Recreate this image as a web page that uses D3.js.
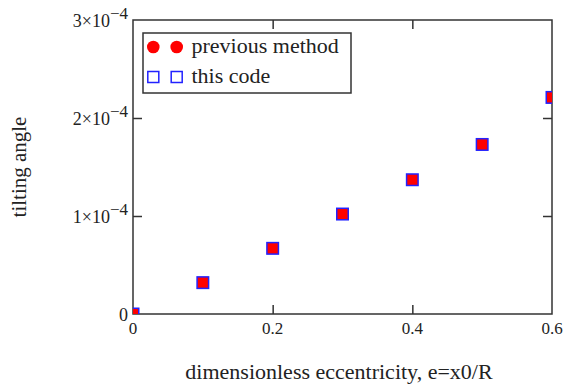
<!DOCTYPE html>
<html>
<head>
<meta charset="utf-8">
<script src="https://cdn.jsdelivr.net/npm/d3@7"></script>
<style>
  body { margin: 0; background: #fff; }
  text { font-family: "Liberation Serif", "DejaVu Serif", serif; fill: #222; }
</style>
</head>
<body>
<svg id="chart" width="566" height="389"></svg>
<script>
// data
var ecc = [0, 0.1, 0.2, 0.3, 0.4, 0.5, 0.6];
var prevMethod = [0, 0.32e-4, 0.67e-4, 1.02e-4, 1.37e-4, 1.73e-4, 2.21e-4];
var thisCode = [0, 0.32e-4, 0.67e-4, 1.02e-4, 1.37e-4, 1.73e-4, 2.21e-4];
var xTicks = [0, 0.2, 0.4, 0.6];
var xTickLabels = ['0', '0.2', '0.4', '0.6'];
var yTicks = [0, 1e-4, 2e-4, 3e-4];
var yTickMant = ['0', '1', '2', '3'];
var legendNames = ['previous method', 'this code'];

var margin = { top: 20, right: 14, bottom: 75, left: 133 },
    width = 566 - margin.left - margin.right,
    height = 389 - margin.top - margin.bottom;

var svg = d3.select('#chart');
var g = svg.append('g').attr('transform', 'translate(' + margin.left + ',' + margin.top + ')');

var x = d3.scaleLinear().domain([0, 0.6]).range([0, width]);
var y = d3.scaleLinear().domain([0, 3e-4]).range([height, 0]);

svg.append('defs').append('clipPath').attr('id', 'clip')
    .append('rect').attr('width', width).attr('height', height);

///////////////////////////////
// axes, ticks pointing inward
///////////////////////////////
function styleAxis(sel) {
    sel.select('.domain').remove();
    sel.selectAll('.tick line').attr('stroke', '#333').attr('stroke-width', 1.5);
}
g.append('g').attr('transform', 'translate(0,' + height + ')')
    .call(d3.axisBottom(x).tickValues(xTicks.slice(1, -1)).tickSize(-9).tickFormat(''))
    .call(styleAxis);
g.append('g')
    .call(d3.axisTop(x).tickValues(xTicks.slice(1, -1)).tickSize(-9).tickFormat(''))
    .call(styleAxis);
g.append('g')
    .call(d3.axisLeft(y).tickValues(yTicks.slice(1, -1)).tickSize(-9).tickFormat(''))
    .call(styleAxis);
g.append('g').attr('transform', 'translate(' + width + ',0)')
    .call(d3.axisRight(y).tickValues(yTicks.slice(1, -1)).tickSize(-9).tickFormat(''))
    .call(styleAxis);

g.append('rect')
    .attr('width', width).attr('height', height)
    .attr('fill', 'none').attr('stroke', '#333').attr('stroke-width', 1.5);

// x tick labels
g.append('g').selectAll('text')
    .data(xTicks)
    .enter()
    .append('text')
        .attr('x', function(d) { return x(d); })
        .attr('y', height + 20)
        .attr('text-anchor', 'middle')
        .attr('font-size', 17)
        .text(function(d, i) { return xTickLabels[i]; });

// y tick labels, "n×10^-4"
var yl = g.append('g').selectAll('text')
    .data(yTicks)
    .enter()
    .append('text')
        .attr('x', -5)
        .attr('y', function(d) { return y(d) + 7; })
        .attr('text-anchor', 'end')
        .attr('font-size', 18);
yl.each(function(d, i) {
    var t = d3.select(this);
    if (d === 0) { t.text('0'); return; }
    t.append('tspan').text(yTickMant[i] + '\u00d710');
    t.append('tspan').attr('dy', -8).attr('font-size', 17).text('\u2212' + '4');
});

///////////////////////////////
// points
///////////////////////////////
var plot = g.append('g').attr('clip-path', 'url(#clip)');
var sq = 11.5;

// previous method: red marks, filling the squares
plot.append('g')
    .selectAll('rect')
    .data(prevMethod)
    .enter()
    .append('rect')
        .attr('x', function(d, i) { return x(ecc[i]) - sq / 2; })
        .attr('y', function(d) { return y(d) - sq / 2; })
        .attr('width', sq).attr('height', sq)
        .attr('fill', '#ff0000');

// this code: blue open squares
plot.append('g')
    .selectAll('rect')
    .data(thisCode)
    .enter()
    .append('rect')
        .attr('x', function(d, i) { return x(ecc[i]) - sq / 2; })
        .attr('y', function(d) { return y(d) - sq / 2; })
        .attr('width', sq).attr('height', sq)
        .attr('fill', 'none')
        .attr('stroke', '#2222ff')
        .attr('stroke-width', 1.5);

///////////////////////////////
// legend
///////////////////////////////
var lg = g.append('g').attr('transform', 'translate(10,13)');
lg.append('rect')
    .attr('width', 208).attr('height', 60)
    .attr('fill', '#fff').attr('stroke', '#333').attr('stroke-width', 1.5);

[10.3, 33.7].forEach(function(dx) {
    lg.append('circle').attr('cx', dx).attr('cy', 14).attr('r', 6.3).attr('fill', '#ff0000');
    lg.append('rect').attr('x', dx - 5.5).attr('y', 38.5).attr('width', 11).attr('height', 11)
        .attr('fill', 'none').attr('stroke', '#2222ff').attr('stroke-width', 1.5);
});
lg.selectAll('text.lab')
    .data(legendNames)
    .enter()
    .append('text')
        .attr('class', 'lab')
        .attr('x', 48.5)
        .attr('y', function(d, i) { return 20 + i * 30; })
        .attr('font-size', 22)
        .text(function(d) { return d; });

///////////////////////////////
// axis titles
///////////////////////////////
svg.append('text')
    .attr('transform', 'translate(26,167) rotate(-90)')
    .attr('text-anchor', 'middle')
    .attr('font-size', 21)
    .text('tilting angle');

svg.append('text')
    .attr('x', 339)
    .attr('y', 379)
    .attr('text-anchor', 'middle')
    .attr('font-size', 22)
    .text('dimensionless eccentricity, e=x0/R');
</script>
</body>
</html>
